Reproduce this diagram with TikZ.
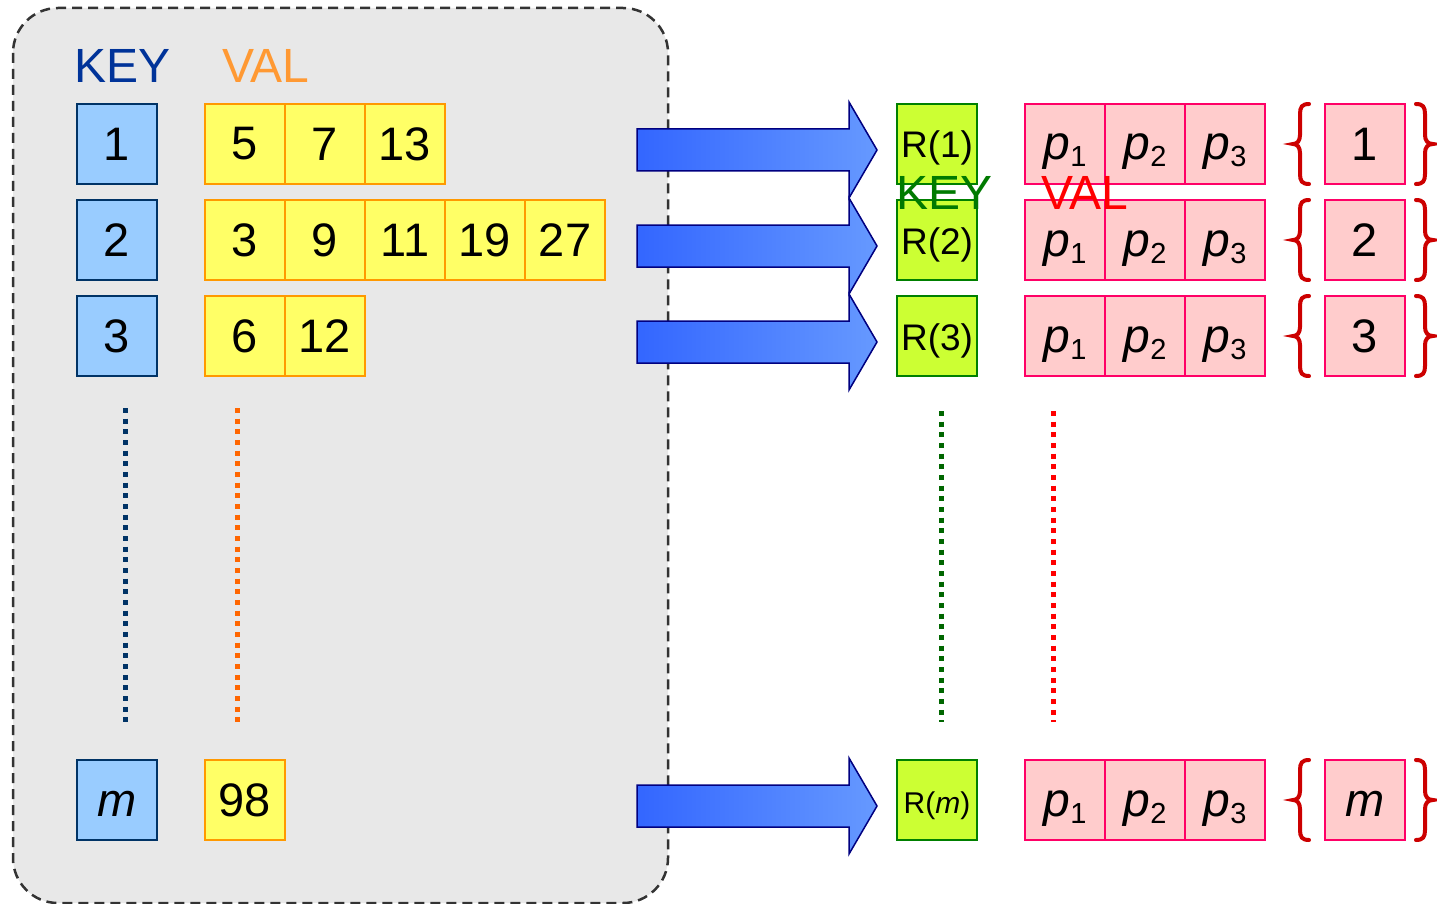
\documentclass[tikz,border=0pt]{standalone}
\usepackage{fontspec}
\setmainfont{Liberation Sans}
\definecolor{keyfill}{HTML}{99CCFF}
\definecolor{keyline}{HTML}{003366}
\definecolor{keytext}{HTML}{003399}
\definecolor{valtext}{HTML}{FF9933}
\definecolor{valfill}{HTML}{FFFF66}
\definecolor{valline}{HTML}{FF9900}
\definecolor{rfill}{HTML}{CCFF33}
\definecolor{rline}{HTML}{008000}
\definecolor{pfill}{HTML}{FFCCCC}
\definecolor{pline}{HTML}{FF0066}
\definecolor{bracecol}{HTML}{CC0000}
\definecolor{framefill}{HTML}{E8E8E8}
\definecolor{frameline}{HTML}{333333}
\definecolor{arrowL}{HTML}{3366FF}
\definecolor{arrowR}{HTML}{6699FF}
\definecolor{arrowline}{HTML}{000080}
\definecolor{dotblue}{HTML}{003366}
\definecolor{dotorange}{HTML}{FF6600}
\definecolor{dotgreen}{HTML}{006600}
\definecolor{dotred}{HTML}{FF0000}
\definecolor{gkey}{HTML}{007A00}
\newcommand{\bigtxt}{\fontsize{47}{52}\selectfont}
\newcommand{\pp}[1]{{\fontsize{48}{52}\selectfont\itshape p}\raisebox{-7pt}{\fontsize{29}{32}\selectfont #1}}
\begin{document}
\begin{tikzpicture}[x=1pt,y=-1pt,
  cell/.style={minimum width=80pt,minimum height=80pt,inner sep=0pt,line width=2pt,font=\bigtxt},
  keybox/.style={cell,fill=keyfill,draw=keyline},
  valbox/.style={cell,fill=valfill,draw=valline},
  rbox/.style={cell,fill=rfill,draw=rline,font=\fontsize{37}{40}\selectfont,text height=28pt,text depth=0pt},
  pbox/.style={cell,fill=pfill,draw=pline},
  lowtext/.style={text height=32pt,text depth=0pt},
  lbl/.style={inner sep=0pt,anchor=base west,font=\fontsize{48}{52}\selectfont},
  dotline/.style={line width=5pt,dash pattern=on 5pt off 5.67pt},
  bracestyle/.style={draw=bracecol,line width=4pt,line cap=round},
  bigarrow/.style={left color=arrowL,right color=arrowR,draw=arrowline,line width=1.5pt,line join=miter}
]
\useasboundingbox (0,0) rectangle (1437,904);
% frame
\draw[fill=framefill,draw=frameline,line width=2.5pt,dash pattern=on 10pt off 6pt,rounded corners=45pt] (13,8) rectangle (668,903);
% labels
\node[lbl,text=keytext] (keylbl) at (74,83) {KEY};
\node[lbl,text=valtext] (vallbl) at (222,83) {VAL};
% key boxes
\node[keybox] (k1) at (117,144) {1};
\node[keybox] (k2) at (117,240) {2};
\node[keybox] (k3) at (117,336) {3};
\node[keybox,lowtext] (km) at (117,800) {\itshape m};
% value boxes
\node[valbox] (v11) at (245,144) {5};
\node[valbox] (v12) at (325,144) {7};
\node[valbox] (v13) at (405,144) {13};
\node[valbox] (v21) at (245,240) {3};
\node[valbox] (v22) at (325,240) {9};
\node[valbox] (v23) at (405,240) {11};
\node[valbox] (v24) at (485,240) {19};
\node[valbox] (v25) at (565,240) {27};
\node[valbox] (v31) at (245,336) {6};
\node[valbox] (v32) at (325,336) {12};
\node[valbox] (vm1) at (245,800) {98};
% dotted lines
\coordinate (bd1) at (125,408); \coordinate (bd2) at (125,722);
\coordinate (od1) at (237,408); \coordinate (od2) at (237,722);
\coordinate (gd1) at (941,411); \coordinate (gd2) at (941,722);
\coordinate (rd1) at (1053,411); \coordinate (rd2) at (1053,722);
\draw[dotline,dotblue] (bd1) -- (bd2);
\draw[dotline,dotorange] (od1) -- (od2);
\draw[dotline,dotgreen] (gd1) -- (gd2);
\draw[dotline,dotred] (rd1) -- (rd2);
% block arrows
\foreach \c in {150,246,342,806}{
  \shade[bigarrow] (637,\c-21) -- (849,\c-21) -- (849,\c-48) -- (877,\c) -- (849,\c+48) -- (849,\c+21) -- (637,\c+21) -- cycle;
}
% R boxes
\node[rbox] (r1) at (937,144) {R(1)};
\node[rbox] (r2) at (937,240) {R(2)};
\node[rbox] (r3) at (937,336) {R(3)};
\node[rbox,font=\fontsize{30}{34}\selectfont,text height=26pt] (rm) at (937,800) {R(\textit{m})};
% p boxes
\foreach \r/\c in {1/144,2/240,3/336,m/800}{
  \node[pbox,lowtext] (p\r a) at (1065,\c) {\pp{1}};
  \node[pbox,lowtext] (p\r b) at (1145,\c) {\pp{2}};
  \node[pbox,lowtext] (p\r c) at (1225,\c) {\pp{3}};
}
% set boxes
\node[pbox] (s1) at (1365,144) {1};
\node[pbox] (s2) at (1365,240) {2};
\node[pbox] (s3) at (1365,336) {3};
\node[pbox,lowtext] (sm) at (1365,800) {\itshape m};
% braces
\foreach \c in {144,240,336,800}{
  \draw[bracestyle] (1309,\c-40) .. controls (1302,\c-40) and (1300,\c-37) .. (1300,\c-30) -- (1300,\c-9) .. controls (1300,\c-3) and (1297,\c) .. (1293,\c) .. controls (1297,\c) and (1300,\c+3) .. (1300,\c+9) -- (1300,\c+30) .. controls (1300,\c+37) and (1302,\c+40) .. (1309,\c+40);
  \draw[bracestyle] (1416,\c-40) .. controls (1423,\c-40) and (1425,\c-37) .. (1425,\c-30) -- (1425,\c-9) .. controls (1425,\c-3) and (1428,\c) .. (1433,\c) .. controls (1428,\c) and (1425,\c+3) .. (1425,\c+9) -- (1425,\c+30) .. controls (1425,\c+37) and (1423,\c+40) .. (1416,\c+40);
}
% overlapping labels
\node[lbl,text=gkey] (gkeylbl) at (896,209) {KEY};
\node[lbl,text=dotred] (rvallbl) at (1041,209) {VAL};
\end{tikzpicture}
\end{document}
